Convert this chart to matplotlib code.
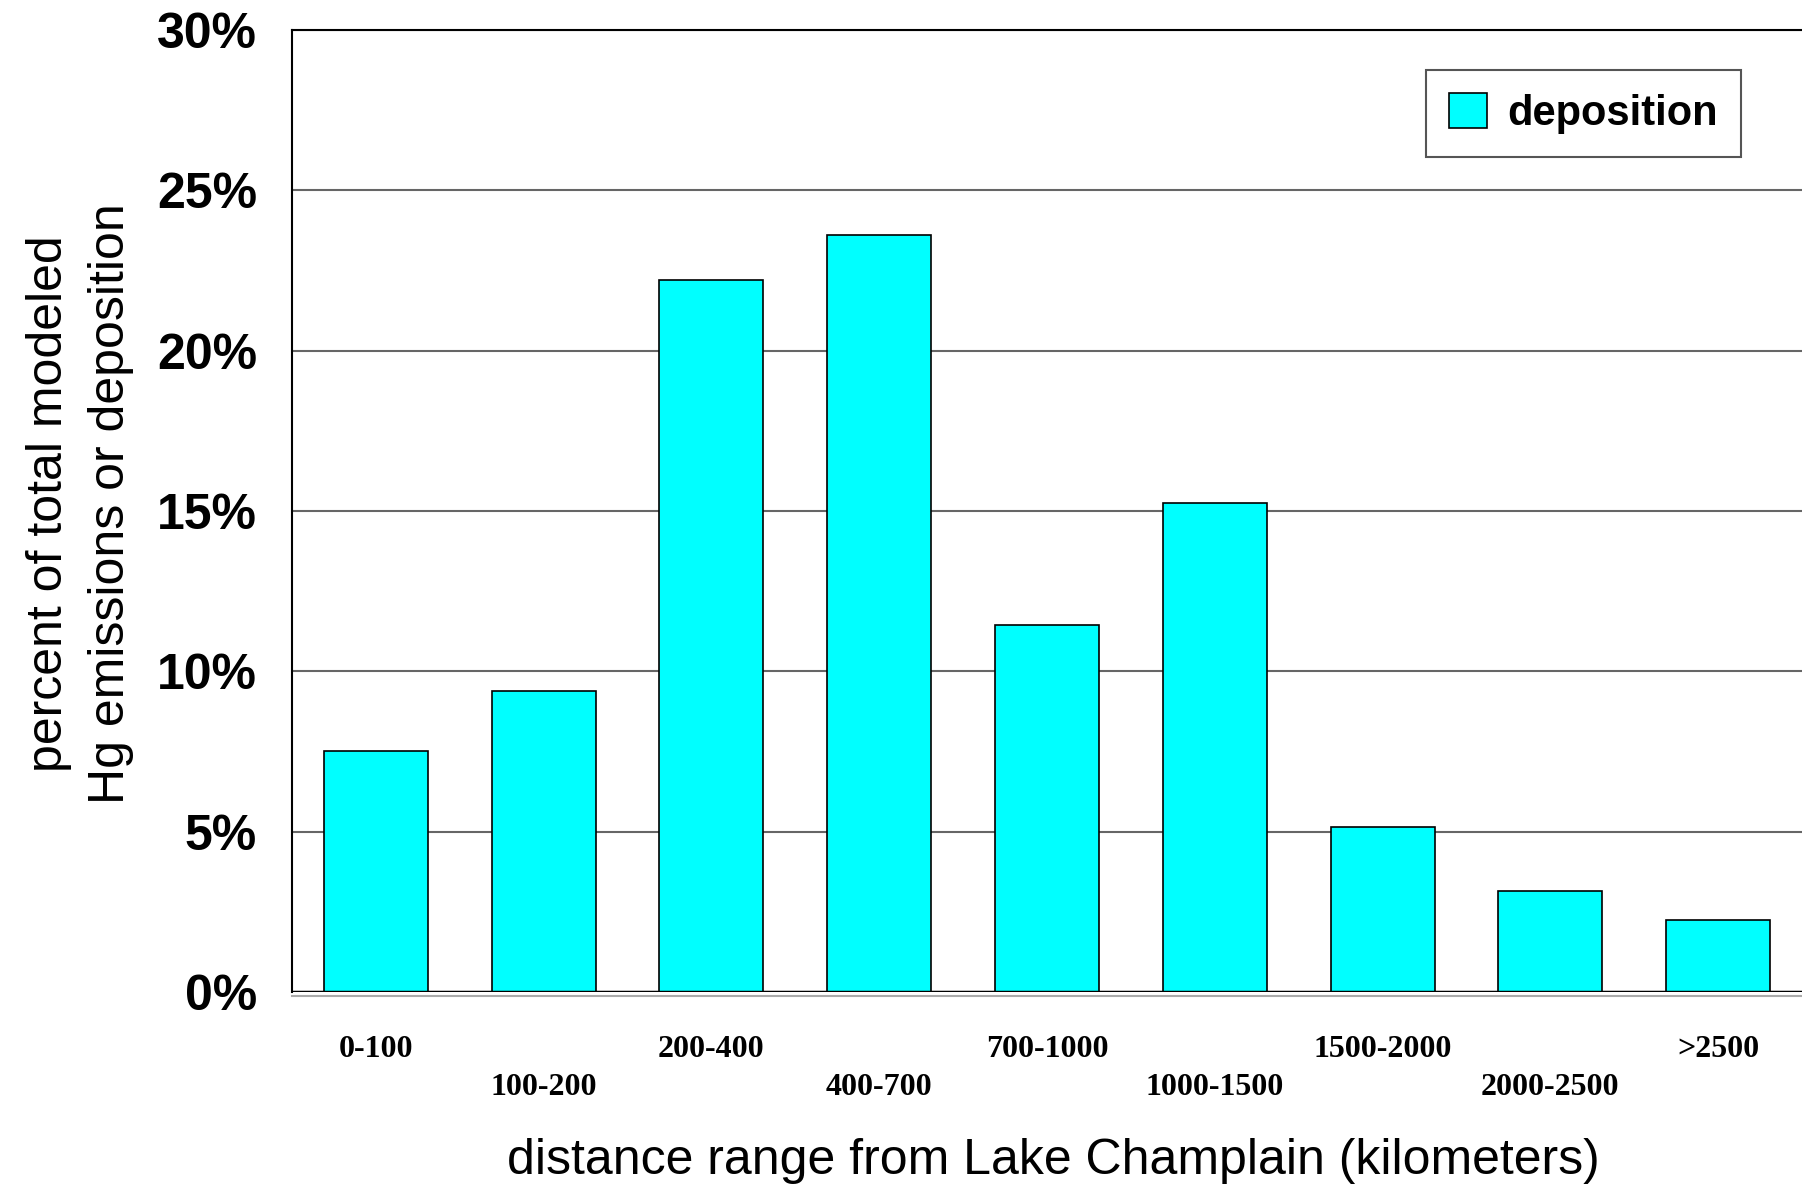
import numpy as np
import matplotlib
matplotlib.use("Agg")
import matplotlib.pyplot as plt
from matplotlib.ticker import FuncFormatter

# distance bins and share of modeled deposition (%)
ranges = ['0-100', '100-200', '200-400', '400-700', '700-1000',
          '1000-1500', '1500-2000', '2000-2500', '>2500']
deposition = [7.5, 9.4, 22.2, 23.6, 11.45, 15.25, 5.15, 3.15, 2.25]
yticks = [0, 5, 10, 15, 20, 25, 30]

sans = 'Liberation Sans'
serif = 'Liberation Serif'

fig = plt.figure(figsize=(18.02, 11.86), dpi=100)
ax = fig.add_axes([0.162, 0.1636, 0.838, 0.8111])

# spines first: set_position resets the ticks
for s in ['top', 'left']:
    ax.spines[s].set_color('black')
    ax.spines[s].set_linewidth(1.5)
ax.spines['right'].set_visible(False)
ax.spines['bottom'].set_position(('outward', 3))
ax.spines['bottom'].set_color('#aaaaaa')
ax.spines['bottom'].set_linewidth(1.5)

x = np.arange(len(ranges))
ax.bar(x, deposition, width=0.62, color='#00ffff', edgecolor='black',
       linewidth=1.2, label='deposition', zorder=3)

ax.set_xlim(-0.5, 8.5)
ax.set_ylim(0, 30)
ax.set_yticks(yticks)
ax.yaxis.set_major_formatter(FuncFormatter(lambda v, p: f'{v:.0f}%'))
ax.grid(axis='y', color='#666666', linewidth=1.5, zorder=0)
ax.axhline(0, color='black', linewidth=2.5, zorder=4)

# staggered category labels
labels = [r if i % 2 == 0 else '\n' + r for i, r in enumerate(ranges)]
ax.set_xticks(x)
ax.set_xticklabels(labels, fontfamily=serif, fontweight='bold', fontsize=23,
                   linespacing=1.4)
ax.tick_params(axis='x', length=0, pad=28)
ax.tick_params(axis='y', length=0, pad=25)
for t in ax.get_yticklabels():
    t.set_fontfamily(sans)
    t.set_fontweight('bold')
    t.set_fontsize(36)

ax.set_xlabel('distance range from Lake Champlain (kilometers)',
              fontfamily=sans, fontsize=36)
ax.xaxis.set_label_coords(0.504, -0.1757)
ax.xaxis.label.set_va('center')
ax.set_ylabel('percent of total modeled\nHg emissions or deposition',
              fontfamily=sans, fontsize=36, linespacing=1.45,
              multialignment='center')
ax.yaxis.set_label_coords(-0.1404, 0.508)
ax.yaxis.label.set_va('center')

leg = ax.legend(loc='upper right', bbox_to_anchor=(0.9596, 0.958),
                borderaxespad=0, fancybox=False, framealpha=1,
                prop={'family': sans, 'weight': 'bold', 'size': 30},
                handlelength=0.9, handleheight=0.9, handletextpad=0.5,
                borderpad=0.55)
leg.get_frame().set_edgecolor('#555555')
leg.get_frame().set_linewidth(1.5)

fig.savefig('out.png', dpi=100)
